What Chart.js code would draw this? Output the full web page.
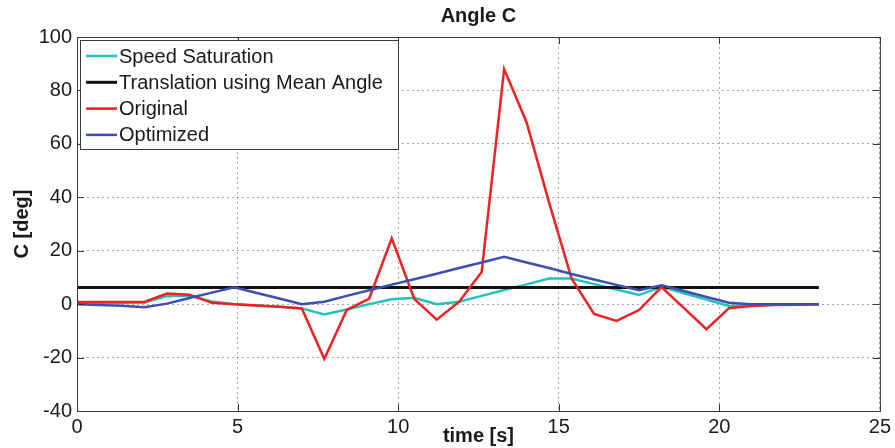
<!DOCTYPE html>
<html>
<head>
<meta charset="utf-8">
<script src="https://cdn.jsdelivr.net/npm/chart.js@4.4.1/dist/chart.umd.min.js"></script>
<style>
  html, body { margin: 0; padding: 0; background: #fff; }
  #wrap { width: 895px; height: 448px; }
</style>
</head>
<body>
<div id="wrap"><canvas id="angle-c"></canvas></div>
<script>
// sample times [s]
const time = [0, 0.7, 1.4, 2.1, 2.8, 3.5, 4.2, 4.9, 5.6, 6.3, 7.0, 7.7, 8.4, 9.1, 9.8, 10.5, 11.2,
    11.9, 12.6, 13.3, 14.0, 14.7, 15.4, 16.1, 16.8, 17.5, 18.2, 18.9, 19.6, 20.3, 21.0, 21.7, 22.4, 23.1];

const speedSaturation = [0.5, 0.5, 0.5, 0.6, 3, 3.2, 1, 0, -0.5, -1, -1.6, -3.9, -2, 0, 1.8, 2.4, 0,
    0.9, 3.1, 5.3, 7.4, 9.6, 9.6, 7.5, 5.5, 3.4, 6.5, 4.1, 1.7, -0.7, -0.4, -0.2, 0, 0];

const original = [0.8, 0.8, 0.8, 0.8, 4, 3.5, 0.5, 0, -0.5, -1, -1.6, -20.5, -2.2, 2.1, 24.6, 2, -5.8,
    0.9, 12, 88, 68, 38, 9.6, -3.7, -6.3, -2.2, 6.4, -1.5, -9.4, -1.5, -0.7, -0.3, -0.2, 0];

const optimized = [0, -0.3, -0.6, -1.2, 0.2, 2.3, 4.3, 6.3, 4.2, 2.1, 0, 0.9, 3.1, 5.2, 7.3, 9.3, 11.4,
    13.5, 15.6, 17.7, 15.6, 13.5, 11.3, 9.2, 7.2, 5.2, 7.1, 4.9, 2.7, 0.5, 0, 0, 0, 0];

const meanTime = [0, 23.1];
const meanAngle = [6.2, 6.2];

const xTicks = [0, 5, 10, 15, 20, 25];
const yTicks = [-40, -20, 0, 20, 40, 60, 80, 100];

const FONT = '"Liberation Sans", Arial, sans-serif';

function pairs(xs, ys) {
    return xs.map((x, i) => ({ x: x, y: ys[i] }));
}

// matlab style box with inward ticks
const frame = {
    id: 'frame',
    afterDraw(chart) {
        const { ctx, chartArea: a, scales } = chart;
        ctx.save();
        ctx.strokeStyle = '#3a3a3a';
        ctx.lineWidth = 1;
        ctx.strokeRect(a.left + 0.5, a.top + 0.5, a.right - a.left, a.bottom - a.top);
        ctx.beginPath();
        xTicks.forEach(v => {
            const px = Math.round(scales.x.getPixelForValue(v)) + 0.5;
            ctx.moveTo(px, a.bottom); ctx.lineTo(px, a.bottom - 7);
            ctx.moveTo(px, a.top); ctx.lineTo(px, a.top + 7);
        });
        yTicks.forEach(v => {
            const py = Math.round(scales.y.getPixelForValue(v)) + 0.5;
            ctx.moveTo(a.left, py); ctx.lineTo(a.left + 7, py);
            ctx.moveTo(a.right, py); ctx.lineTo(a.right - 7, py);
        });
        ctx.stroke();
        ctx.restore();
    }
};

// legend drawn inside the plot, top left
const boxLegend = {
    id: 'boxLegend',
    afterDraw(chart) {
        const ctx = chart.ctx;
        const x0 = chart.chartArea.left + 3;
        const y0 = chart.chartArea.top + 3;
        ctx.save();
        ctx.fillStyle = '#fff';
        ctx.fillRect(x0, y0, 318, 109);
        ctx.strokeStyle = '#3a3a3a';
        ctx.lineWidth = 1;
        ctx.strokeRect(x0 + 0.5, y0 + 0.5, 318, 109);
        ctx.font = '20px ' + FONT;
        ctx.textBaseline = 'middle';
        chart.data.datasets.forEach((ds, i) => {
            const y = y0 + 16 + i * 26.3;
            ctx.strokeStyle = ds.borderColor;
            ctx.lineWidth = ds.borderWidth;
            ctx.beginPath();
            ctx.moveTo(x0 + 6, y);
            ctx.lineTo(x0 + 37, y);
            ctx.stroke();
            ctx.fillStyle = '#1a1a1a';
            ctx.fillText(ds.label, x0 + 39, y + 1);
        });
        ctx.restore();
    }
};

const ctx = document.getElementById('angle-c').getContext('2d');
const chart = new Chart(ctx, {
    type: 'line',
    data: {
        datasets: [{
            label: 'Speed Saturation',
            data: pairs(time, speedSaturation),
            borderColor: '#22c2bb',
            borderWidth: 2.5,
            order: 3
        }, {
            label: 'Translation using Mean Angle',
            data: pairs(meanTime, meanAngle),
            borderColor: '#111111',
            borderWidth: 3,
            order: 2
        }, {
            label: 'Original',
            data: pairs(time, original),
            borderColor: '#ee2222',
            borderWidth: 2.5,
            order: 1
        }, {
            label: 'Optimized',
            data: pairs(time, optimized),
            borderColor: '#3b4fb2',
            borderWidth: 2.5,
            order: 0
        }]
    },
    options: {
        responsive: true,
        maintainAspectRatio: false,
        animation: false,
        elements: {
            point: { radius: 0 },
            line: { tension: 0, borderJoinStyle: 'miter' }
        },
        layout: { padding: { left: 0, right: 15, top: 0, bottom: 0 } },
        scales: {
            x: {
                type: 'linear',
                min: 0,
                max: 25,
                afterBuildTicks: s => { s.ticks = xTicks.map(v => ({ value: v })); },
                afterFit: s => { s.height = 37; },
                grid: { color: '#a8a8a8', lineWidth: 1, drawTicks: false },
                border: { display: false, dash: [2, 3] },
                ticks: {
                    padding: 4,
                    color: '#1a1a1a',
                    font: { family: FONT, size: 20 },
                    maxRotation: 0
                },
                title: {
                    display: true,
                    text: 'time [s]',
                    color: '#1a1a1a',
                    font: { family: FONT, size: 20, weight: 'bold' },
                    padding: { top: 0, bottom: 0 }
                }
            },
            y: {
                min: -40,
                max: 100,
                afterBuildTicks: s => { s.ticks = yTicks.map(v => ({ value: v })); },
                afterFit: s => { s.width = 77; },
                grid: { color: '#a8a8a8', lineWidth: 1, drawTicks: false },
                border: { display: false, dash: [2, 3] },
                ticks: {
                    padding: 5,
                    color: '#1a1a1a',
                    font: { family: FONT, size: 20 }
                },
                title: {
                    display: true,
                    text: 'C [deg]',
                    color: '#1a1a1a',
                    font: { family: FONT, size: 20, weight: 'bold' },
                    padding: { top: 10, bottom: 0 }
                }
            }
        },
        plugins: {
            legend: { display: false },
            tooltip: { enabled: false },
            title: {
                display: true,
                text: 'Angle C',
                fullSize: false,
                color: '#1a1a1a',
                font: { family: FONT, size: 20, weight: 'bold' },
                padding: { top: 4, bottom: 9 }
            }
        }
    },
    plugins: [frame, boxLegend]
});
</script>
</body>
</html>
